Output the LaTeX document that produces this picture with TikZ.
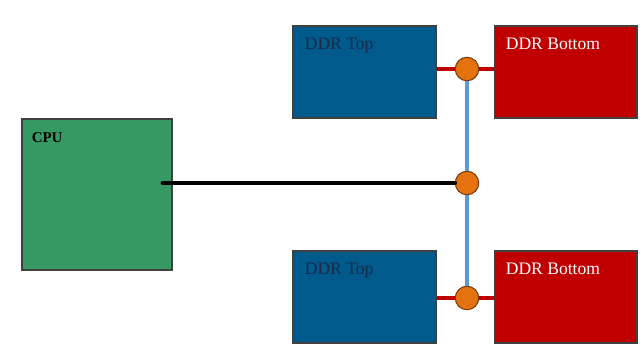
\documentclass[tikz,border=0pt]{standalone}
\usepackage{fontspec}
\setmainfont{Liberation Serif}
\usetikzlibrary{positioning, calc}

\definecolor{cpugreen}{HTML}{369963}
\definecolor{ddrblue}{HTML}{005A8C}
\definecolor{ddrred}{HTML}{C00000}
\definecolor{busblue}{HTML}{5B9BD5}
\definecolor{viaorange}{HTML}{E4720F}
\definecolor{viaedge}{HTML}{7A3A10}
\definecolor{labelnavy}{HTML}{1B2A48}

\begin{document}
\begin{tikzpicture}[
    x=0.02cm, y=-0.02cm,    % 1単位 = 参照画像の1ピクセル
    font=\fontsize{10}{12}\selectfont,
    chip/.style={draw=black!75, line width=0.6pt, inner sep=0pt,
                 minimum width=2.86cm, minimum height=1.84cm},
    via/.style={circle, draw=viaedge, fill=viaorange, line width=0.6pt,
                minimum size=0.47cm, inner sep=0pt},
    wire/.style={line width=0.095cm}
]
    \useasboundingbox (0,0) rectangle (643,356);

    % --- 1. CPU ---
    \node [chip, fill=cpugreen, minimum width=3.0cm, minimum height=3.02cm] (cpu) at (97,194.5) {};
    \node [below right=0.27cm and 0.2cm of cpu.north west, inner sep=0pt,
           font=\fontsize{8.5}{10}\selectfont\bfseries] (cpu_label) {CPU};

    % --- 2. DDR（上段・下段） ---
    \node [chip, fill=ddrblue] (top_a) at (364.5,72) {};
    \node [chip, fill=ddrred, right=1.14cm of top_a] (top_b) {};
    \node [chip, fill=ddrblue, below=2.64cm of top_a] (bot_a) {};
    \node [chip, fill=ddrred, right=1.14cm of bot_a] (bot_b) {};

    \node [below right=0.24cm and 0.24cm of top_a.north west, inner sep=0pt, text=labelnavy] (top_a_label) {DDR Top};
    \node [below right=0.24cm and 0.24cm of top_b.north west, inner sep=0pt, text=white] (top_b_label) {DDR Bottom};
    \node [below right=0.24cm and 0.24cm of bot_a.north west, inner sep=0pt, text=labelnavy] (bot_a_label) {DDR Top};
    \node [below right=0.24cm and 0.24cm of bot_b.north west, inner sep=0pt, text=white] (bot_b_label) {DDR Bottom};

    % --- 3. 分岐点（オレンジの丸） ---
    \node [via] (via_top) at (467,69) {};
    \node [via] (via_mid) at (467,183) {};
    \node [via] (via_bot) at (467,298) {};

    % --- 4. 配線 ---
    % 縦の共通バス
    \draw [wire, busblue] (via_top) -- (via_mid);
    \draw [wire, busblue] (via_mid) -- (via_bot);
    % DDR への枝
    \draw [wire, ddrred] (top_a.east |- via_top) -- (via_top);
    \draw [wire, ddrred] (via_top) -- (top_b.west |- via_top);
    \draw [wire, ddrred] (bot_a.east |- via_bot) -- (via_bot);
    \draw [wire, ddrred] (via_bot) -- (bot_b.west |- via_bot);
    % CPU からの線
    \coordinate (cpu_pin) at (163,183);
    \draw [wire, black, line cap=round] (cpu_pin) -- (via_mid);

\end{tikzpicture}
\end{document}
